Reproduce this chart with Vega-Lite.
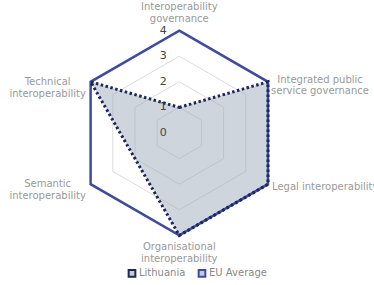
{
  "$schema": "https://vega.github.io/schema/vega-lite/v6.json",
  "width": 374,
  "height": 285,
  "autosize": {"type": "none"},
  "padding": 0,
  "background": "white",
  "config": {"view": {"stroke": null}, "font": "DejaVu Sans"},
  "datasets": {
    "scores": [
      {"country": "Lithuania", "axis": "Interoperability governance", "value": 1},
      {"country": "Lithuania", "axis": "Integrated public service governance", "value": 4},
      {"country": "Lithuania", "axis": "Legal interoperability", "value": 4},
      {"country": "Lithuania", "axis": "Organisational interoperability", "value": 4},
      {"country": "Lithuania", "axis": "Semantic interoperability", "value": 2},
      {"country": "Lithuania", "axis": "Technical interoperability", "value": 4},
      {"country": "EU Average", "axis": "Interoperability governance", "value": 4},
      {"country": "EU Average", "axis": "Integrated public service governance", "value": 4},
      {"country": "EU Average", "axis": "Legal interoperability", "value": 4},
      {"country": "EU Average", "axis": "Organisational interoperability", "value": 4},
      {"country": "EU Average", "axis": "Semantic interoperability", "value": 4},
      {"country": "EU Average", "axis": "Technical interoperability", "value": 4}
    ],
    "grid": [
      {"level": 1, "axis": ["Interoperability governance", "Integrated public service governance", "Legal interoperability", "Organisational interoperability", "Semantic interoperability", "Technical interoperability"]},
      {"level": 2, "axis": ["Interoperability governance", "Integrated public service governance", "Legal interoperability", "Organisational interoperability", "Semantic interoperability", "Technical interoperability"]},
      {"level": 3, "axis": ["Interoperability governance", "Integrated public service governance", "Legal interoperability", "Organisational interoperability", "Semantic interoperability", "Technical interoperability"]},
      {"level": 4, "axis": ["Interoperability governance", "Integrated public service governance", "Legal interoperability", "Organisational interoperability", "Semantic interoperability", "Technical interoperability"]}
    ],
    "ticks": [{"tick": 0}, {"tick": 1}, {"tick": 2}, {"tick": 3}, {"tick": 4}],
    "labels": [
      {"axis": "Interoperability governance", "text": ["Interoperability", "governance"], "r": 4},
      {"axis": "Integrated public service governance", "text": ["Integrated public", "service governance"], "r": 4},
      {"axis": "Legal interoperability", "text": "Legal interoperability", "r": 4},
      {"axis": "Organisational interoperability", "text": ["Organisational", "interoperability"], "r": 4},
      {"axis": "Semantic interoperability", "text": ["Semantic", "interoperability"], "r": 4},
      {"axis": "Technical interoperability", "text": ["Technical", "interoperability"], "r": 4}
    ]
  },
  "layer": [
    {
      "data": {"name": "grid"},
      "transform": [
        {"flatten": ["axis"]},
        {"calculate": "indexof(['Interoperability governance','Integrated public service governance','Legal interoperability','Organisational interoperability','Semantic interoperability','Technical interoperability'], datum.axis)", "as": "idx"},
        {"calculate": "datum.level * sin(datum.idx * PI / 3)", "as": "px"},
        {"calculate": "datum.level * cos(datum.idx * PI / 3)", "as": "py"}
      ],
      "mark": {"type": "line", "interpolate": "linear-closed", "stroke": "#dcdcdc", "strokeWidth": 1},
      "encoding": {
        "x": {"field": "px", "type": "quantitative", "axis": null, "scale": {"domain": [-7.004, 7.605], "nice": false, "zero": false}},
        "y": {"field": "py", "type": "quantitative", "axis": null, "scale": {"domain": [-5.9375, 5.195], "nice": false, "zero": false}},
        "detail": {"field": "level"},
        "order": {"field": "idx", "type": "quantitative"}
      }
    },
    {
      "data": {"name": "scores"},
      "transform": [
        {"filter": "datum.country === 'Lithuania'"},
        {"calculate": "indexof(['Interoperability governance','Integrated public service governance','Legal interoperability','Organisational interoperability','Semantic interoperability','Technical interoperability'], datum.axis)", "as": "idx"},
        {"calculate": "datum.value * sin(datum.idx * PI / 3)", "as": "px"},
        {"calculate": "datum.value * cos(datum.idx * PI / 3)", "as": "py"}
      ],
      "mark": {"type": "line", "interpolate": "linear-closed", "fill": "#9eacb9", "fillOpacity": 0.5, "strokeWidth": 0},
      "encoding": {
        "x": {"field": "px", "type": "quantitative"},
        "y": {"field": "py", "type": "quantitative"},
        "order": {"field": "idx", "type": "quantitative"}
      }
    },
    {
      "data": {"name": "ticks"},
      "transform": [
        {"calculate": "0", "as": "px"}
      ],
      "mark": {"type": "text", "align": "center", "baseline": "middle", "dx": -16, "fontSize": 11, "color": "#444"},
      "encoding": {
        "x": {"field": "px", "type": "quantitative"},
        "y": {"field": "tick", "type": "quantitative"},
        "text": {"field": "tick", "type": "quantitative"}
      }
    },
    {
      "data": {"name": "scores"},
      "transform": [
        {"filter": "datum.country === 'EU Average'"},
        {"calculate": "indexof(['Interoperability governance','Integrated public service governance','Legal interoperability','Organisational interoperability','Semantic interoperability','Technical interoperability'], datum.axis)", "as": "idx"},
        {"calculate": "datum.value * sin(datum.idx * PI / 3)", "as": "px"},
        {"calculate": "datum.value * cos(datum.idx * PI / 3)", "as": "py"}
      ],
      "mark": {"type": "line", "interpolate": "linear-closed", "strokeWidth": 2.5},
      "encoding": {
        "x": {"field": "px", "type": "quantitative"},
        "y": {"field": "py", "type": "quantitative"},
        "order": {"field": "idx", "type": "quantitative"},
        "color": {"field": "country", "type": "nominal", "scale": {"domain": ["Lithuania", "EU Average"], "range": ["#1c2657", "#3f4c9e"]},
          "legend": {"title": null, "orient": "none", "legendX": 127, "legendY": 268, "direction": "horizontal", "symbolType": "square", "symbolSize": 45, "symbolStrokeWidth": 2, "symbolFillColor": "#c3ccd6", "labelColor": "#888", "labelFontSize": 10, "labelOffset": 2, "columnPadding": 8, "symbolOpacity": 1}}
      }
    },
    {
      "data": {"name": "scores"},
      "transform": [
        {"filter": "datum.country === 'Lithuania'"},
        {"calculate": "indexof(['Interoperability governance','Integrated public service governance','Legal interoperability','Organisational interoperability','Semantic interoperability','Technical interoperability'], datum.axis)", "as": "idx"},
        {"calculate": "datum.value * sin(datum.idx * PI / 3)", "as": "px"},
        {"calculate": "datum.value * cos(datum.idx * PI / 3)", "as": "py"}
      ],
      "mark": {"type": "line", "interpolate": "linear-closed", "strokeWidth": 3, "strokeDash": [2.5, 2.5]},
      "encoding": {
        "x": {"field": "px", "type": "quantitative"},
        "y": {"field": "py", "type": "quantitative"},
        "order": {"field": "idx", "type": "quantitative"},
        "color": {"field": "country", "type": "nominal"}
      }
    },
    {
      "data": {"name": "labels"},
      "transform": [
        {"filter": "datum.axis === 'Interoperability governance'"},
        {"calculate": "indexof(['Interoperability governance','Integrated public service governance','Legal interoperability','Organisational interoperability','Semantic interoperability','Technical interoperability'], datum.axis)", "as": "idx"},
        {"calculate": "datum.r * sin(datum.idx * PI / 3)", "as": "px"},
        {"calculate": "datum.r * cos(datum.idx * PI / 3)", "as": "py"}
      ],
      "mark": {"type": "text", "align": "center", "baseline": "top", "dy": -29, "fontSize": 10, "lineHeight": 12, "color": "#999"},
      "encoding": {
        "x": {"field": "px", "type": "quantitative"},
        "y": {"field": "py", "type": "quantitative"},
        "text": {"field": "text"}
      }
    },
    {
      "data": {"name": "labels"},
      "transform": [
        {"filter": "datum.axis === 'Organisational interoperability'"},
        {"calculate": "indexof(['Interoperability governance','Integrated public service governance','Legal interoperability','Organisational interoperability','Semantic interoperability','Technical interoperability'], datum.axis)", "as": "idx"},
        {"calculate": "datum.r * sin(datum.idx * PI / 3)", "as": "px"},
        {"calculate": "datum.r * cos(datum.idx * PI / 3)", "as": "py"}
      ],
      "mark": {"type": "text", "align": "center", "baseline": "top", "dy": 7, "fontSize": 10, "lineHeight": 12, "color": "#999"},
      "encoding": {
        "x": {"field": "px", "type": "quantitative"},
        "y": {"field": "py", "type": "quantitative"},
        "text": {"field": "text"}
      }
    },
    {
      "data": {"name": "labels"},
      "transform": [
        {"filter": "datum.axis === 'Semantic interoperability' || datum.axis === 'Technical interoperability'"},
        {"calculate": "indexof(['Interoperability governance','Integrated public service governance','Legal interoperability','Organisational interoperability','Semantic interoperability','Technical interoperability'], datum.axis)", "as": "idx"},
        {"calculate": "datum.r * sin(datum.idx * PI / 3)", "as": "px"},
        {"calculate": "datum.r * cos(datum.idx * PI / 3)", "as": "py"}
      ],
      "mark": {"type": "text", "align": "center", "baseline": "middle", "dx": -43, "fontSize": 10, "lineHeight": 12, "color": "#999"},
      "encoding": {
        "x": {"field": "px", "type": "quantitative"},
        "y": {"field": "py", "type": "quantitative"},
        "text": {"field": "text"}
      }
    },
    {
      "data": {"name": "labels"},
      "transform": [
        {"filter": "datum.axis === 'Integrated public service governance'"},
        {"calculate": "indexof(['Interoperability governance','Integrated public service governance','Legal interoperability','Organisational interoperability','Semantic interoperability','Technical interoperability'], datum.axis)", "as": "idx"},
        {"calculate": "datum.r * sin(datum.idx * PI / 3)", "as": "px"},
        {"calculate": "datum.r * cos(datum.idx * PI / 3)", "as": "py"}
      ],
      "mark": {"type": "text", "align": "center", "baseline": "middle", "dx": 52, "dy": -2, "fontSize": 10, "lineHeight": 11, "color": "#999"},
      "encoding": {
        "x": {"field": "px", "type": "quantitative"},
        "y": {"field": "py", "type": "quantitative"},
        "text": {"field": "text"}
      }
    },
    {
      "data": {"name": "labels"},
      "transform": [
        {"filter": "datum.axis === 'Legal interoperability'"},
        {"calculate": "indexof(['Interoperability governance','Integrated public service governance','Legal interoperability','Organisational interoperability','Semantic interoperability','Technical interoperability'], datum.axis)", "as": "idx"},
        {"calculate": "datum.r * sin(datum.idx * PI / 3)", "as": "px"},
        {"calculate": "datum.r * cos(datum.idx * PI / 3)", "as": "py"}
      ],
      "mark": {"type": "text", "align": "left", "baseline": "middle", "dx": 4, "dy": 3, "fontSize": 10, "color": "#999"},
      "encoding": {
        "x": {"field": "px", "type": "quantitative"},
        "y": {"field": "py", "type": "quantitative"},
        "text": {"field": "text"}
      }
    }
  ]
}
